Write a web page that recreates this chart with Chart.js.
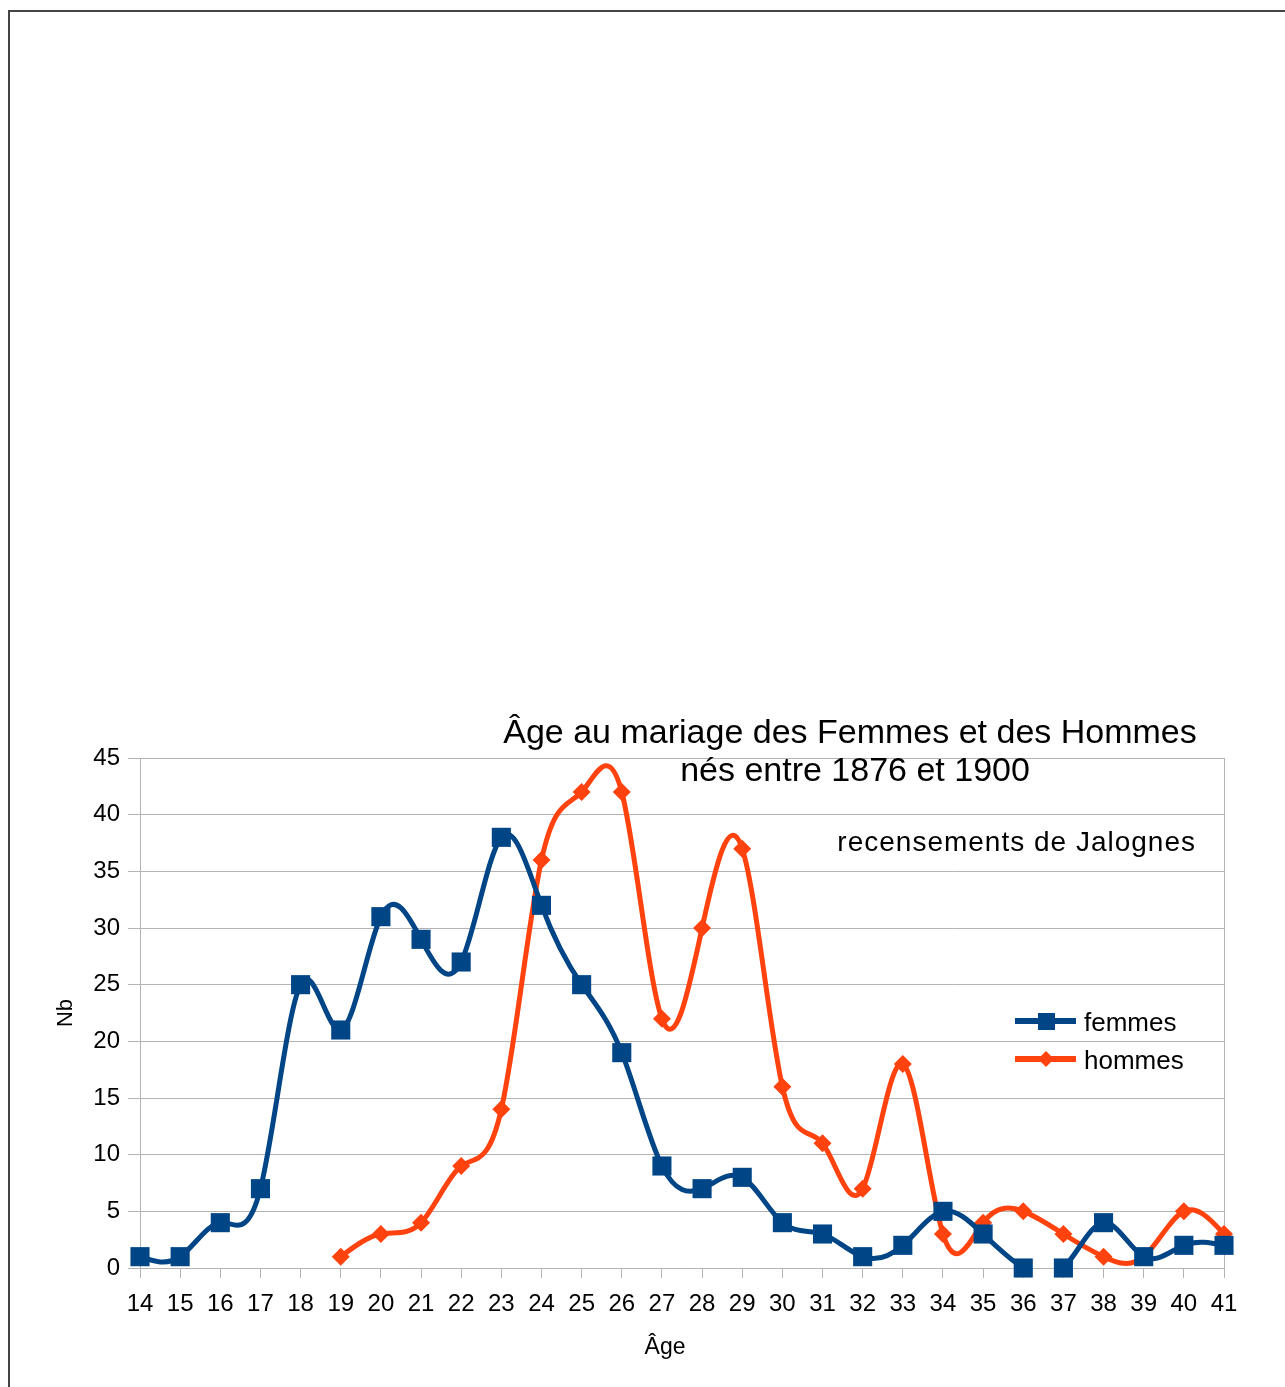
<!DOCTYPE html>
<html>
<head>
<meta charset="utf-8">
<script src="https://cdn.jsdelivr.net/npm/chart.js@4.4.0/dist/chart.umd.min.js"></script>
<style>
  html, body { margin: 0; padding: 0; background: #fff; overflow: hidden; }
  #frame { position: absolute; left: 8px; top: 10px; width: 2000px; height: 2000px;
           border-left: 2px solid #444; border-top: 2px solid #444; }
  #c { position: absolute; left: 0; top: 0; }
</style>
</head>
<body>
<div id="frame"></div>
<canvas id="c" width="1285" height="1387"></canvas>
<script>
// données
const ages = ['14', '15', '16', '17', '18', '19', '20', '21', '22', '23', '24', '25', '26', '27',
  '28', '29', '30', '31', '32', '33', '34', '35', '36', '37', '38', '39', '40', '41'];
const femmes = [1, 1, 4, 7, 25, 21, 31, 29, 27, 38, 32, 25, 19, 9, 7, 8, 4, 3, 1, 2, 5, 3, 0, 0, 4, 1, 2, 2];
const hommes = [null, null, null, null, null, 1, 3, 4, 9, 14, 36, 42, 42, 22, 30, 37, 16, 11, 7, 18, 3, 4, 5, 3, 1, 1, 5, 3];
const titre = ['Âge au mariage des Femmes et des Hommes', 'nés entre 1876 et 1900'];
const sousTitre = 'recensements de Jalognes';
const titreX = 'Âge';
const titreY = 'Nb';

const bleu = '#004586';
const orange = '#ff420e';
const gris = '#b3b3b3';
const police = '"Liberation Sans", Arial, sans-serif';

// courbe sans marqueurs (coupée au bas de la zone) + marqueurs à part
function courbe(data, color, order) {
  return {
    data: data, borderColor: color, backgroundColor: color, borderWidth: 5,
    tension: 0.4, pointRadius: 0, fill: false, order: order, lisse: true,
    clip: { left: false, top: false, right: false, bottom: 0 }
  };
}
function marqueurs(data, color, style, radius, order) {
  return {
    data: data, showLine: false, backgroundColor: color, borderColor: color,
    pointStyle: style, pointRadius: radius, pointBorderWidth: 0, order: order, clip: false
  };
}

const series = [
  { label: 'femmes', color: bleu, style: 'rect' },
  { label: 'hommes', color: orange, style: 'rectRot' }
];

// spline cubique naturelle en x (comme le lissage du tableur)
function splineNaturelle(pts) {
  const n = pts.length;
  if (n < 2) return;
  const h = [], M = new Array(n).fill(0);
  for (let i = 0; i < n - 1; i++) h.push(pts[i + 1].x - pts[i].x);
  if (n > 2) {
    const a = [], b = [], c = [], r = [];
    for (let i = 1; i < n - 1; i++) {
      a.push(h[i - 1]);
      b.push(2 * (h[i - 1] + h[i]));
      c.push(h[i]);
      r.push(6 * ((pts[i + 1].y - pts[i].y) / h[i] - (pts[i].y - pts[i - 1].y) / h[i - 1]));
    }
    const m = b.length;
    for (let i = 1; i < m; i++) {
      const w = a[i] / b[i - 1];
      b[i] -= w * c[i - 1];
      r[i] -= w * r[i - 1];
    }
    const sol = new Array(m);
    sol[m - 1] = r[m - 1] / b[m - 1];
    for (let i = m - 2; i >= 0; i--) sol[i] = (r[i] - c[i] * sol[i + 1]) / b[i];
    for (let i = 0; i < m; i++) M[i + 1] = sol[i];
  }
  pts[0].cp1x = pts[0].x; pts[0].cp1y = pts[0].y;
  pts[n - 1].cp2x = pts[n - 1].x; pts[n - 1].cp2y = pts[n - 1].y;
  for (let i = 0; i < n - 1; i++) {
    const d = (pts[i + 1].y - pts[i].y) / h[i];
    const s0 = d - h[i] * (2 * M[i] + M[i + 1]) / 6;
    const s1 = d + h[i] * (M[i] + 2 * M[i + 1]) / 6;
    pts[i].cp2x = pts[i].x + h[i] / 3;
    pts[i].cp2y = pts[i].y + s0 * h[i] / 3;
    pts[i + 1].cp1x = pts[i + 1].x - h[i] / 3;
    pts[i + 1].cp1y = pts[i + 1].y - s1 * h[i] / 3;
  }
}

const lissage = {
  id: 'lissage',
  beforeDatasetDraw(chart, args) {
    const meta = args.meta;
    const line = meta.dataset;
    if (!line || !meta.controller.getDataset().lisse) return;
    line.updateControlPoints(chart.chartArea, meta.iScale.axis);
    let run = [];
    line.points.forEach(p => {
      if (p.skip) { splineNaturelle(run); run = []; } else run.push(p);
    });
    splineNaturelle(run);
  }
};

// titres, sous-titre et légende
const textes = {
  id: 'textes',
  afterDraw(chart) {
    const ctx = chart.ctx;
    ctx.save();
    ctx.fillStyle = '#000';
    ctx.textBaseline = 'alphabetic';
    ctx.textAlign = 'center';
    ctx.font = '34px ' + police;
    ctx.fillText(titre[0], 850, 743);
    ctx.fillText(titre[1], 855, 781);

    ctx.font = '23px ' + police;
    ctx.fillText(titreX, 665, 1354);

    ctx.font = '28px ' + police;
    ctx.letterSpacing = '1px';
    ctx.textAlign = 'right';
    ctx.fillText(sousTitre, 1196, 851);
    ctx.letterSpacing = '0px';

    ctx.textAlign = 'left';
    series.forEach((s, i) => {
      const y = 1021 + i * 38;
      ctx.strokeStyle = s.color;
      ctx.lineWidth = 6;
      ctx.beginPath();
      ctx.moveTo(1015, y);
      ctx.lineTo(1076, y);
      ctx.stroke();
      ctx.fillStyle = s.color;
      ctx.beginPath();
      if (s.style === 'rect') {
        ctx.rect(1038, y - 8, 17, 17);
      } else {
        ctx.moveTo(1046, y - 8); ctx.lineTo(1054, y); ctx.lineTo(1046, y + 8); ctx.lineTo(1038, y);
        ctx.closePath();
      }
      ctx.fill();
      ctx.fillStyle = '#000';
      ctx.font = '26px ' + police;
      ctx.fillText(s.label, 1084, y + 10);
    });
    ctx.restore();
  }
};

new Chart(document.getElementById('c'), {
  type: 'line',
  data: {
    labels: ages,
    datasets: [
      marqueurs(femmes, bleu, 'rect', 13.5, 0),
      courbe(femmes, bleu, 1),
      marqueurs(hommes, orange, 'rectRot', 9, 2),
      courbe(hommes, orange, 3)
    ]
  },
  options: {
    responsive: false,
    animation: false,
    events: [],
    layout: { padding: { top: 758, right: 61, bottom: 0, left: 0 } },
    elements: { line: { capBezierPoints: false } },
    plugins: { legend: { display: false }, tooltip: { enabled: false }, title: { display: false } },
    scales: {
      x: {
        offset: false,
        grid: {
          color: c => (c.index === ages.length - 1 ? gris : 'rgba(0,0,0,0)'),
          tickColor: gris, tickLength: 10, lineWidth: 1
        },
        border: { color: gris },
        ticks: { color: '#000', font: { family: police, size: 24 }, padding: 12, autoSkip: false, maxRotation: 0 },
        afterFit: s => { s.height = 119; }
      },
      y: {
        min: 0, max: 45,
        grid: { color: gris, tickLength: 12 },
        border: { color: gris },
        ticks: { stepSize: 5, color: '#000', font: { family: police, size: 24 }, padding: 8 },
        title: { display: true, text: titreY, color: '#000', font: { family: police, size: 22 }, padding: { top: 53, bottom: 0 } },
        afterFit: s => { s.width = 140; }
      }
    }
  },
  plugins: [lissage, textes]
});
</script>
</body>
</html>
